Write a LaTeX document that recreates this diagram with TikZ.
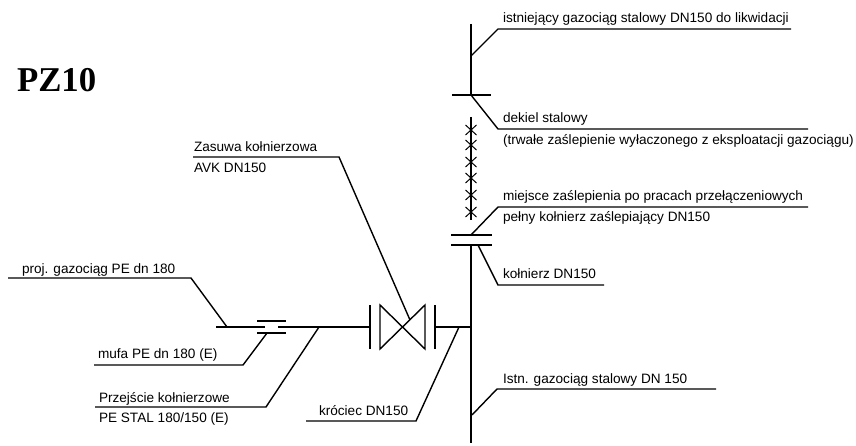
\documentclass[tikz,border=0pt]{standalone}
\usepackage{fontspec}
\setmainfont{Liberation Sans}
\newfontfamily\titlefont{Liberation Serif}
\tikzset{
  pipe/.style={draw=black,line width=1.4pt},
  leader/.style={draw=black,line width=1.4pt,line join=miter},
  lab/.style={anchor=base west,inner sep=0pt,outer sep=0pt,font=\fontsize{13.6}{15}\selectfont,text=black},
  ttl/.style={anchor=base west,inner sep=0pt,outer sep=0pt,font=\titlefont\bfseries\fontsize{34.8}{38}\selectfont,text=black}
}
\begin{document}
\begin{tikzpicture}[x=1pt,y=-1pt]
\useasboundingbox (0,0) rectangle (856,446);
% labels
\node[ttl] (title) at (17,92) {PZ10};
\node[lab] (t1) at (503,23) {istniejący gazociąg stalowy DN150 do likwidacji};
\node[lab] (t2) at (503,123) {dekiel stalowy};
\node[lab] (t3) at (503,145) {(trwałe zaślepienie wyłaczonego z eksploatacji gazociągu)};
\node[lab] (t4) at (503,201) {miejsce zaślepienia po pracach przełączeniowych};
\node[lab] (t5) at (503,222) {pełny kołnierz zaślepiający DN150};
\node[lab] (t6) at (503,279) {kołnierz DN150};
\node[lab] (t7) at (503,383) {Istn. gazociąg stalowy DN 150};
\node[lab] (t8) at (194,152) {Zasuwa kołnierzowa};
\node[lab] (t9) at (194,173) {AVK DN150};
\node[lab] (t10) at (22,273) {proj. gazociąg PE dn 180};
\node[lab] (t11) at (98,358) {mufa PE dn 180 (E)};
\node[lab] (t12) at (99,402) {Przejście kołnierzowe};
\node[lab] (t13) at (99,422) {PE STAL 180/150 (E)};
\node[lab] (t14) at (319,415) {króciec DN150};
% pipe points
\coordinate (topend) at (471,24);
\coordinate (cap) at (471,95);
\coordinate (capL) at (452,95);
\coordinate (capR) at (491,95);
\coordinate (xtop) at (471,117);
\coordinate (xbot) at (471,220);
\coordinate (fa) at (471,235);
\coordinate (faL) at (451,235);
\coordinate (faR) at (492,235);
\coordinate (fbL) at (451,245);
\coordinate (fbR) at (492,245);
\coordinate (fb) at (471,245);
\coordinate (botend) at (471,443);
\coordinate (tee) at (471,327);
\coordinate (main0) at (216,327);
\coordinate (main1) at (265,327);
\coordinate (main2) at (278,327);
\coordinate (vL) at (370,327);
\coordinate (vR) at (435,327);
% pipes
\draw[pipe] (topend) -- (cap);
\draw[pipe] (capL) -- (capR);
\draw[pipe] (xtop) -- (xbot);
\foreach \yy in {130,145,162,178,195,212}
  \draw[line width=1pt] (465.5,\yy-5) -- (476.5,\yy+5) (476.5,\yy-5) -- (465.5,\yy+5);
\draw[pipe] (faL) -- (faR);
\draw[pipe] (fbL) -- (fbR);
\draw[pipe] (fb) -- (botend);
\draw[pipe] (main0) -- (main1);
\draw[pipe] (main2) -- (vL);
\draw[pipe] (vR) -- (tee);
% sleeve
\draw[pipe] (257,321) -- (286,321);
\draw[pipe] (257,333) -- (286,333);
% valve
\draw[pipe] (370,305) -- (370,349);
\draw[pipe] (435,305) -- (435,349);
\draw[pipe,line join=miter] (380,305) -- (425,349) -- (425,305) -- (380,349) -- cycle;
% leaders
\draw[leader] (471,56) -- (498,29) -- (791,29);
\draw[leader] (cap) -- (498,129) -- (808,129);
\draw[leader] (fa) -- (498,207) -- (808,207);
\draw[leader] (478,245) -- (498,285) -- (604,285);
\draw[leader] (472,415) -- (497,389) -- (716,389);
\draw[leader] (193,157) -- (339,157) -- (410,320);
\draw[leader] (8,278) -- (191,278) -- (227,327);
\draw[leader] (94,365) -- (243,365) -- (267,333);
\draw[leader] (95,407) -- (266,407) -- (319,327);
\draw[leader] (306,421) -- (416,421) -- (459,327);
\end{tikzpicture}
\end{document}
